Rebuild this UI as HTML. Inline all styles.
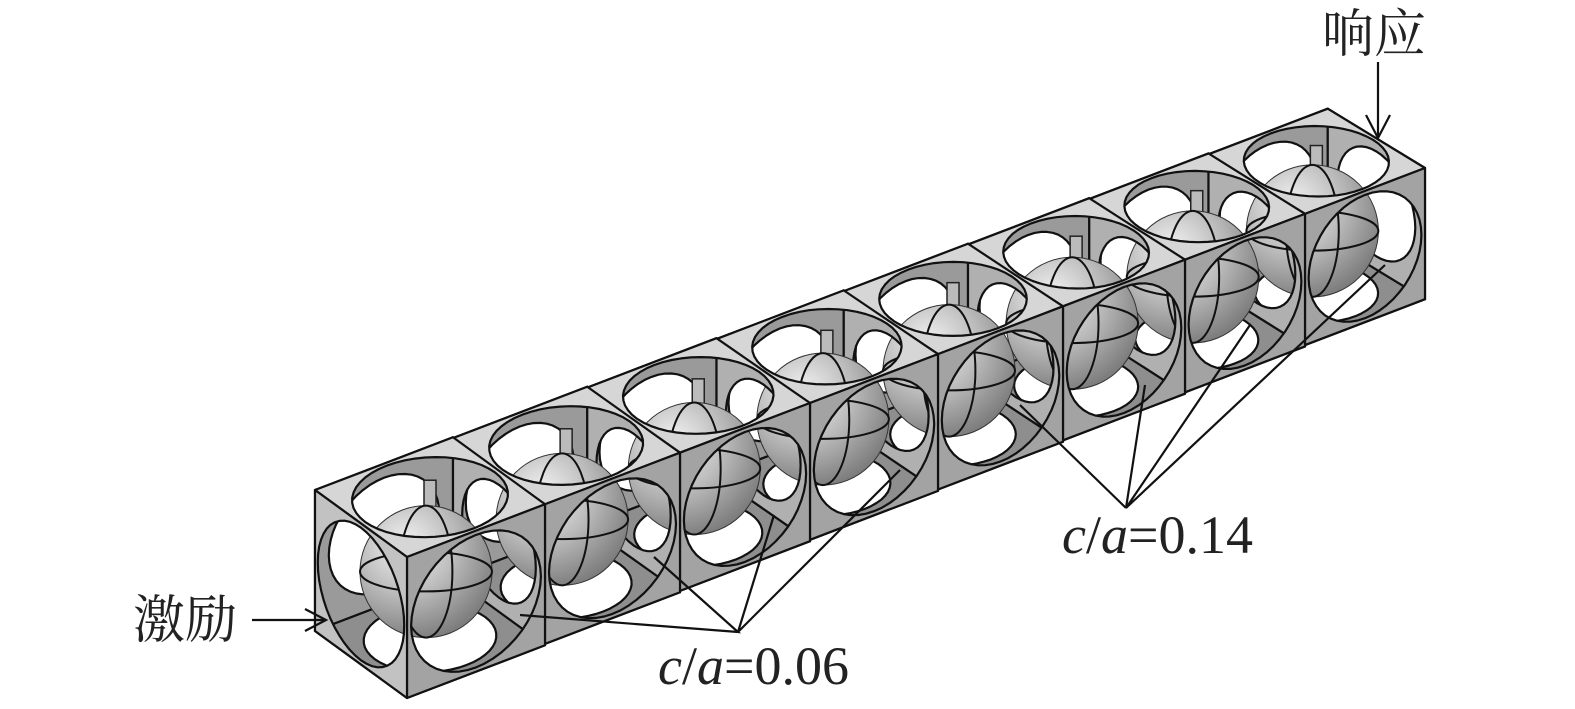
<!DOCTYPE html>
<html><head><meta charset="utf-8"><style>
html,body{margin:0;padding:0;background:#fff;}
svg{display:block}
text{font-family:"Liberation Serif","Noto Serif CJK SC",serif;fill:#222}
</style></head><body>
<svg id="s" width="1575" height="709" viewBox="0 0 1575 709" xmlns="http://www.w3.org/2000/svg">
<defs>
<radialGradient id="sg" cx="0.35" cy="0.3" r="0.75">
<stop offset="0" stop-color="#f4f4f4"/><stop offset="0.5" stop-color="#bbbbbb"/><stop offset="1" stop-color="#7a7a7a"/>
</radialGradient>
</defs>
<g id="g"></g>
<g stroke="#111" stroke-width="2.2" fill="none">
<polyline points="520,615 738,632 654,557"/>
<line x1="738" y1="632" x2="774" y2="515"/>
<line x1="738" y1="632" x2="900" y2="470"/>
<line x1="1126" y1="508" x2="1020" y2="405"/>
<line x1="1126" y1="508" x2="1145" y2="385"/>
<line x1="1126" y1="508" x2="1250" y2="325"/>
<line x1="1126" y1="508" x2="1385" y2="265"/>
<line x1="1378" y1="62" x2="1378" y2="138"/>
<polyline points="1366,115 1378,138 1390,115"/>
<line x1="252" y1="620" x2="326" y2="620"/>
<polyline points="305,609 326,620 305,631"/>
</g>
<text x="1322" y="52" font-size="52">响应</text>
<text x="133" y="638" font-size="52">激励</text>
<text x="658" y="684" font-size="54"><tspan font-style="italic">c</tspan>/<tspan font-style="italic">a</tspan>=0.06</text>
<text x="1062" y="553" font-size="54"><tspan font-style="italic">c</tspan>/<tspan font-style="italic">a</tspan>=0.14</text>
</svg>
<script>
(function(){
var g=document.getElementById('g'),out='';
var XS=[407,545,680,810,938,1063,1185,1305,1425];
function F(i){var x=XS[i];return [x,557-(x-407)*389/1018];}
function H(i){return 141-1.4*i;}
function D(i){return [-92-0.75*i,-67+1.1*i];}
function add(v,w,k){return [v[0]+w[0]*k,v[1]+w[1]*k];}
function face(O,u,v,fill,k){
 k=k||0.47;
 var p='M'+O+' L'+add(O,u,1)+' L'+add(add(O,u,1),v,1)+' L'+add(O,v,1)+' Z ';
 var e='';
 for(var t=0;t<=48;t++){var a=t/48*2*Math.PI;var q=add(add(O,u,0.5+k*Math.cos(a)),v,0.5+k*Math.sin(a));e+=(t?'L':'M')+q[0].toFixed(1)+','+q[1].toFixed(1)+' ';}
 out+='<path d="'+p+e+'Z" fill="'+fill+'" fill-rule="evenodd" stroke="#111" stroke-width="2.2" stroke-linejoin="round"/>';
}
for(var i=7;i>=0;i--){
 var f=F(i),u=[F(i+1)[0]-f[0],F(i+1)[1]-f[1]],d=D(i),h=H(i);
 face(add(f,d,1),u,[0,h],'#9a9a9a',0.4);
 face(add(f,[0,h],1),u,d,'#8e8e8e',0.4);
 face(add(f,u,1),d,[0,h],'#b0b0b0',0.4);
 var c=add(add(add(f,u,0.5),d,0.5),[0,h],0.5);
 var r=66;
 out+='<rect x="'+(c[0]-6)+'" y="'+(c[1]-h*0.62)+'" width="12" height="'+(h*0.3)+'" fill="#bbb" stroke="#222" stroke-width="1.5"/>';
 out+='<circle cx="'+(c[0]-4)+'" cy="'+(c[1]+4)+'" r="'+r+'" fill="url(#sg)" stroke="#333" stroke-width="1"/>';
 out+='<ellipse cx="'+(c[0]-4)+'" cy="'+(c[1]+4)+'" rx="'+r*0.4+'" ry="'+r+'" fill="none" stroke="#111" stroke-width="2"/>';
 out+='<ellipse cx="'+(c[0]-4)+'" cy="'+(c[1]+4)+'" rx="'+r+'" ry="'+r*0.3+'" fill="none" stroke="#111" stroke-width="2"/>';
}
for(var i=7;i>=0;i--){
 var f=F(i),f2=F(i+1),u=[f2[0]-f[0],f2[1]-f[1]],d=D(i),h=H(i);
 face(add(f,d,1),u,[-d[0],-d[1]],'#d6d6d6');
 face(f,u,[0,h],'#a3a3a3');
}
var f0=F(0),d0=D(0);
face(add(f0,d0,1),[-d0[0],-d0[1]],[0,H(0)],'#c2c2c2');
g.innerHTML=out;
})();
</script>
</body></html>
